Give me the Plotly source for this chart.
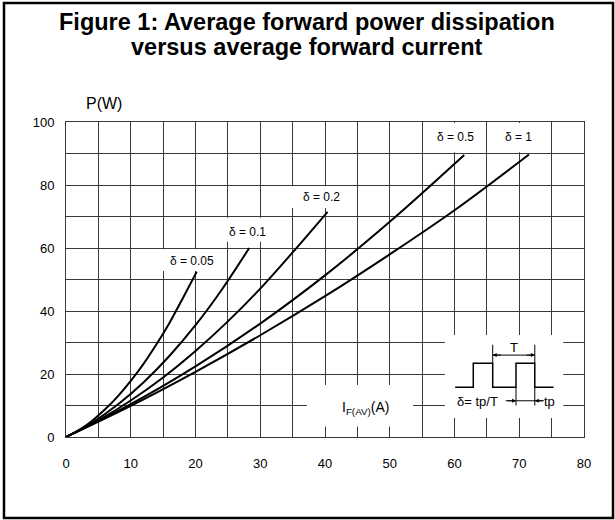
import plotly.graph_objects as go

# ---- data ----
I_d005 = [0, 2, 4, 6, 8, 10, 12, 14, 16, 18, 20.2]
P_d005 = [0, 2.2, 5.1, 8.7, 12.9, 17.8, 23.3, 29.5, 36.3, 43.9, 52.5]
I_d01 = [0, 4, 8, 12, 16, 20, 24, 28.3]
P_d01 = [0, 4.5, 10.3, 17.4, 25.8, 35.5, 46.6, 60.0]
I_d02 = [0, 5, 10, 15, 20, 25, 30, 35, 40.4]
P_d02 = [0, 5.3, 11.6, 18.9, 27.3, 36.7, 47.1, 58.6, 71.5]
I_d05 = [0, 10, 20, 30, 40, 50, 61.5]
P_d05 = [0, 10.4, 22.4, 36.0, 51.3, 68.3, 89.5]
I_d1 = [0, 10, 20, 30, 40, 50, 60, 71.5]
P_d1 = [0, 9.9, 20.7, 32.3, 44.7, 58.0, 72.0, 89.7]

series_labels = ["δ = 0.05", "δ = 0.1", "δ = 0.2", "δ = 0.5", "δ = 1"]
x_ticks = [0, 10, 20, 30, 40, 50, 60, 70, 80]
y_ticks = [0, 20, 40, 60, 80, 100]

FONT = "Liberation Sans, Arial, Helvetica, sans-serif"
GRID = "#3a3a3a"

fig = go.Figure()
for xs, ys, name in [(I_d005, P_d005, series_labels[0]), (I_d01, P_d01, series_labels[1]),
                     (I_d02, P_d02, series_labels[2]), (I_d05, P_d05, series_labels[3]),
                     (I_d1, P_d1, series_labels[4])]:
    fig.add_trace(go.Scatter(x=xs, y=ys, mode="lines", name=name,
                             line=dict(color="black", width=2, shape="spline"),
                             showlegend=False, hoverinfo="skip"))

# white boxes hiding the grid behind labels / inset
boxes = [
    (12, 24.5, 52.7, 59.6),   # d=0.05
    (23.5, 33, 62.0, 69.6),   # d=0.1
    (33.5, 44, 72.7, 79.6),   # d=0.2
    (56.2, 64.7, 90.4, 99.7), # d=0.5
    (66.6, 74.4, 90.4, 99.7), # d=1
    (37.2, 53.6, 3.3, 16.5),  # I_F(AV)
    (58.5, 76.8, 6.0, 32.4),  # inset
]
shapes = []
for x0, x1, y0, y1 in boxes:
    shapes.append(dict(type="rect", xref="x", yref="y", x0=x0, x1=x1, y0=y0, y1=y1,
                       fillcolor="white", line=dict(width=0), layer="between"))

# inset schematic (pulse train)
wave_x = [60.1, 62.9, 62.9, 65.9, 65.9, 69.5, 69.5, 72.4, 72.4, 75.3]
wave_y = [15.8, 15.8, 23.4, 23.4, 15.8, 15.8, 23.4, 23.4, 15.8, 15.8]
path = "M " + " L ".join(f"{a},{b}" for a, b in zip(wave_x, wave_y))
shapes.append(dict(type="path", path=path, xref="x", yref="y",
                   line=dict(color="black", width=1.5), layer="above"))
for xv in (65.9, 72.4):
    shapes.append(dict(type="line", xref="x", yref="y", x0=xv, x1=xv, y0=23.4, y1=29.3,
                       line=dict(color="black", width=1), layer="above"))
for xv in (69.5, 72.4):
    shapes.append(dict(type="line", xref="x", yref="y", x0=xv, x1=xv, y0=15.8, y1=10.0,
                       line=dict(color="black", width=1), layer="above"))
shapes.append(dict(type="line", xref="x", yref="y", x0=65.9, x1=72.4, y0=26.0, y1=26.0,
                   line=dict(color="black", width=1), layer="above"))
shapes.append(dict(type="line", xref="x", yref="y", x0=67.9, x1=73.8, y0=11.5, y1=11.5,
                   line=dict(color="black", width=1), layer="above"))

# outer frame
shapes.append(dict(type="rect", xref="paper", yref="paper", x0=-0.1197, x1=1.056,
                   y0=-0.257, y1=1.378, line=dict(color="black", width=2.5), layer="above"))

annotations = [
    dict(text="<b>Figure 1: Average forward power dissipation</b>", xref="paper", yref="paper",
         x=0.466, y=1.317, xanchor="center", yanchor="middle", showarrow=False,
         font=dict(size=23.5, family=FONT, color="black")),
    dict(text="<b>versus average forward current</b>", xref="paper", yref="paper",
         x=0.466, y=1.238, xanchor="center", yanchor="middle", showarrow=False,
         font=dict(size=23.5, family=FONT, color="black")),
    dict(text="P(W)", xref="paper", yref="paper", x=0.073, y=1.060,
         xanchor="center", yanchor="middle", showarrow=False,
         font=dict(size=16, family=FONT, color="black")),
    dict(text="I<sub>F(AV)</sub>(A)", xref="x", yref="y", x=46.2, y=9.2, showarrow=False,
         font=dict(size=14, family=FONT, color="black")),
    dict(text=series_labels[0], x=19.5, y=55.9, xref="x", yref="y", showarrow=False,
         font=dict(size=12, family=FONT, color="black")),
    dict(text=series_labels[1], x=28.0, y=65.1, xref="x", yref="y", showarrow=False,
         font=dict(size=12, family=FONT, color="black")),
    dict(text=series_labels[2], x=39.5, y=76.2, xref="x", yref="y", showarrow=False,
         font=dict(size=12, family=FONT, color="black")),
    dict(text=series_labels[3], x=60.1, y=95.3, xref="x", yref="y", showarrow=False,
         font=dict(size=12, family=FONT, color="black")),
    dict(text=series_labels[4], x=69.9, y=95.3, xref="x", yref="y", showarrow=False,
         font=dict(size=12, family=FONT, color="black")),
    dict(text="T", x=69.2, y=28.3, xref="x", yref="y", showarrow=False,
         font=dict(size=13, family=FONT, color="black")),
    dict(text="δ= tp/T", x=63.6, y=11.4, xref="x", yref="y", showarrow=False,
         font=dict(size=13, family=FONT, color="black")),
    dict(text="tp", x=74.6, y=11.4, xref="x", yref="y", showarrow=False,
         font=dict(size=13, family=FONT, color="black")),
]
# arrowheads for T and tp markers
for (tx, ax) in [(65.9, 67.4), (72.4, 70.9)]:
    annotations.append(dict(x=tx, y=26.0, ax=ax, ay=26.0, xref="x", yref="y", axref="x", ayref="y",
                            text="", showarrow=True, arrowhead=2, arrowsize=0.8, arrowwidth=1,
                            arrowcolor="black"))
for (tx, ax) in [(69.5, 68.0), (72.4, 73.8)]:
    annotations.append(dict(x=tx, y=11.5, ax=ax, ay=11.5, xref="x", yref="y", axref="x", ayref="y",
                            text="", showarrow=True, arrowhead=2, arrowsize=0.8, arrowwidth=1,
                            arrowcolor="black"))

fig.update_layout(
    width=615, height=520,
    margin=dict(l=66, r=31, t=122, b=83),
    paper_bgcolor="white", plot_bgcolor="white",
    font=dict(family=FONT, color="black", size=13),
    shapes=shapes, annotations=annotations,
)
fig.update_xaxes(range=[0, 80], tickvals=x_ticks, showgrid=True, gridcolor=GRID, gridwidth=1,
                 minor=dict(dtick=5, showgrid=True, gridcolor=GRID, gridwidth=1),
                 showline=True, linecolor=GRID, linewidth=1, mirror=True, zeroline=False,
                 ticks="", ticklabelstandoff=14, tickfont=dict(size=13, family=FONT))
fig.update_yaxes(range=[0, 100], tickvals=y_ticks, showgrid=True, gridcolor=GRID, gridwidth=1,
                 minor=dict(dtick=10, showgrid=True, gridcolor=GRID, gridwidth=1),
                 showline=True, linecolor=GRID, linewidth=1, mirror=True, zeroline=False,
                 ticks="", ticklabelstandoff=8, tickfont=dict(size=13, family=FONT))

fig.write_html("out.html", config={"displayModeBar": False},
               post_script="document.body.style.margin='0px';")
